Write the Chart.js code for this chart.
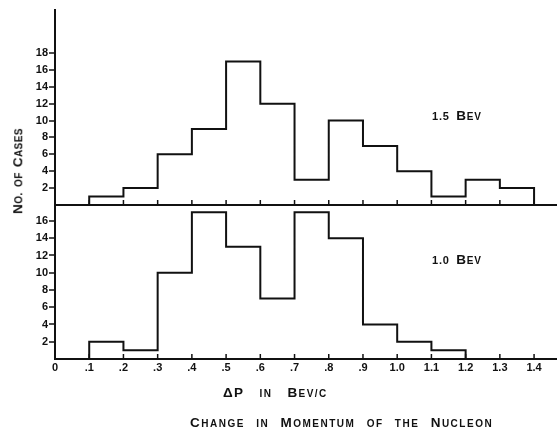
<!DOCTYPE html>
<html>
<head>
<meta charset="utf-8">
<script src="https://cdn.jsdelivr.net/npm/chart.js@4/dist/chart.umd.min.js"></script>
<style>
  html, body { margin: 0; padding: 0; background: #fff; }
  #wrap { position: relative; width: 557px; height: 428px; }
  #wrap canvas { position: absolute; left: 0; top: 0; }
  .lbl {
    position: absolute;
    font-family: "Liberation Sans", Arial, sans-serif;
    font-weight: bold;
    color: #111;
    white-space: nowrap;
    line-height: 1;
    font-size: 13.5px;
  }
  .lbl .sm { font-size: 10px; }
  .lbl .num { font-size: 11px; }
</style>
</head>
<body>
<div id="wrap">
  <canvas id="hist" width="557" height="428"></canvas>
  <div class="lbl sc" id="ytitle" style="left:18px;top:171px;letter-spacing:0.4px;word-spacing:1px;transform:translate(-50%,-50%) rotate(-90deg);">No. of Cases</div>
  <div class="lbl sc" style="left:432px;top:109px;letter-spacing:0.8px;word-spacing:2px;">1.5 Bev</div>
  <div class="lbl sc" style="left:432px;top:253px;letter-spacing:0.8px;word-spacing:2px;">1.0 Bev</div>
  <div class="lbl sc" style="left:223px;top:386px;letter-spacing:1.4px;word-spacing:10px;">ΔP in Bev/c</div>
  <div class="lbl sc" style="left:190px;top:416px;letter-spacing:1.5px;word-spacing:6px;">Change in Momentum of the Nucleon</div>
</div>
<script>
// bin edges (left side) and counts, bins are 0.1 Bev/c wide
const binStart = [0.1, 0.2, 0.3, 0.4, 0.5, 0.6, 0.7, 0.8, 0.9, 1.0, 1.1, 1.2, 1.3];
const counts15 = [1, 2, 6, 9, 17, 12, 3, 10, 7, 4, 1, 3, 2];
const counts10 = [2, 1, 10, 17, 13, 7, 17, 14, 4, 2, 1];

const xTicks = [0, 0.1, 0.2, 0.3, 0.4, 0.5, 0.6, 0.7, 0.8, 0.9, 1.0, 1.1, 1.2, 1.3, 1.4];
const xTickLabels = ['0', '.1', '.2', '.3', '.4', '.5', '.6', '.7', '.8', '.9', '1.0', '1.1', '1.2', '1.3', '1.4'];
const yTicksTop = [0, 2, 4, 6, 8, 10, 12, 14, 16, 18];
const yTicksBottom = [0, 2, 4, 6, 8, 10, 12, 14, 16];

// fake small caps: capitals (and Δ) stay big, everything else goes small upper case
document.querySelectorAll('.sc').forEach(el => {
    const txt = el.textContent;
    el.textContent = '';
    for (const ch of txt) {
        const span = document.createElement('span');
        span.textContent = ch.toUpperCase();
        if (/[0-9.]/.test(ch)) span.className = 'num';
        else if (ch === ch.toLowerCase() && ch !== ' ') span.className = 'sm';
        el.appendChild(span);
    }
});

// turn a histogram into points for a stepped line
function steps(counts) {
    let pts = [{ x: binStart[0], y: 0 }];
    counts.forEach((c, i) => pts.push({ x: binStart[i], y: c }));
    pts.push({ x: Math.round((binStart[counts.length - 1] + 0.1) * 10) / 10, y: 0 });
    return pts;
}

const font = { family: '"Liberation Sans", Arial, sans-serif', weight: 'bold', size: 11 };

function yScale(max, ticks, weight, showBase) {
    return {
        type: 'linear',
        position: 'left',
        stack: 'panels',
        stackWeight: weight,
        min: 0,
        max: max,
        afterBuildTicks: s => { s.ticks = ticks.map(v => ({ value: v })); },
        afterFit: s => { s.width = 55; },
        border: { color: '#111', width: 2 },
        grid: {
            drawOnChartArea: true,
            tickLength: 6,
            lineWidth: 2,
            color: ctx => (ctx.tick && ctx.tick.value === 0 && showBase) ? '#111' : 'rgba(0,0,0,0)',
            tickColor: ctx => (ctx.tick && ctx.tick.value === 0) ? 'rgba(0,0,0,0)' : '#111',
            tickWidth: 1.5
        },
        ticks: {
            color: '#111',
            font: font,
            padding: 1,
            autoSkip: false,
            callback: v => v === 0 ? '' : String(v)
        }
    };
}

// little upward ticks along each baseline
const baseTicks = {
    id: 'baseTicks',
    afterDraw(chart) {
        const c = chart.ctx;
        const x = chart.scales.x;
        c.save();
        c.strokeStyle = '#111';
        c.lineWidth = 1.5;
        ['yT', 'yB'].forEach(id => {
            const base = chart.scales[id].getPixelForValue(0);
            xTicks.slice(1).forEach(v => {
                const px = x.getPixelForValue(v);
                c.beginPath();
                c.moveTo(px, base);
                c.lineTo(px, base - 5);
                c.stroke();
            });
        });
        c.restore();
    }
};

new Chart(document.getElementById('hist'), {
    type: 'line',
    data: {
        datasets: [{
            label: '1.0 Bev',
            data: steps(counts10),
            xAxisID: 'x',
            yAxisID: 'yB',
            stepped: true,
            borderColor: '#111',
            borderWidth: 2,
            pointRadius: 0,
            fill: false
        }, {
            label: '1.5 Bev',
            data: steps(counts15),
            xAxisID: 'x',
            yAxisID: 'yT',
            stepped: true,
            borderColor: '#111',
            borderWidth: 2,
            pointRadius: 0,
            fill: false
        }]
    },
    options: {
        responsive: false,
        animation: false,
        layout: { padding: { top: 10, left: 0, right: 0, bottom: 0 } },
        plugins: {
            legend: { display: false },
            tooltip: { enabled: false }
        },
        scales: {
            x: {
                type: 'linear',
                min: 0,
                max: 1.467,
                afterBuildTicks: s => { s.ticks = xTicks.map(v => ({ value: v })); },
                afterFit: s => { s.height = 69; },
                border: { color: '#111', width: 2 },
                grid: { drawOnChartArea: false, drawTicks: false },
                ticks: {
                    color: '#111',
                    font: font,
                    padding: 2,
                    maxRotation: 0,
                    autoSkip: false,
                    callback: (v, i) => xTickLabels[i]
                }
            },
            yB: yScale(17.85, yTicksBottom, 154, false),
            yT: yScale(23.1, yTicksTop, 195, true)
        }
    },
    plugins: [baseTicks]
});
</script>
</body>
</html>
